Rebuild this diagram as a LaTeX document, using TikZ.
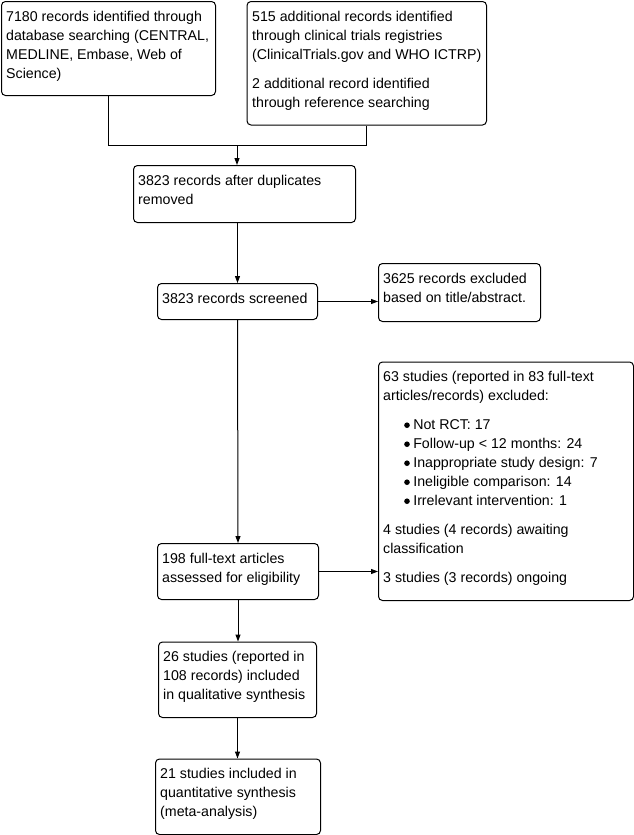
\documentclass[tikz,border=0pt]{standalone}
\usepackage{fontspec}
\setmainfont{Liberation Sans}
\usetikzlibrary{arrows.meta}
\newcommand{\blt}{\hspace*{21pt}\tikz[baseline=-4.5pt]\fill[black] (0,0) circle (2.8pt);\hspace{3.5pt}}
\begin{document}
\begin{tikzpicture}[x=1pt,y=-1pt,
  box/.style={draw=black, line width=1pt, rounded corners=4pt, inner sep=0pt, anchor=north west},
  txt/.style={anchor=north west, inner sep=0pt, align=left, font=\fontsize{14.2}{19}\selectfont},
  conn/.style={draw=black, line width=1pt},
  arr/.style={conn, -{Triangle[length=7pt,width=5pt]}}]
\fill[white] (0,0) rectangle (634,835);
\useasboundingbox (0,0) rectangle (634,835);

\node[box, minimum width=214pt, minimum height=94pt] (A) at (1,1) {};
\node[box, minimum width=239.5pt, minimum height=123.5pt] (B) at (246.5,1) {};
\node[box, minimum width=222pt, minimum height=57pt] (C) at (133,165) {};
\node[box, minimum width=160pt, minimum height=36pt] (D) at (157,283) {};
\node[box, minimum width=162pt, minimum height=58pt] (E) at (378,263) {};
\node[box, minimum width=161pt, minimum height=56pt] (F) at (157,543) {};
\node[box, minimum width=255pt, minimum height=238.5pt] (G) at (378,361.5) {};
\node[box, minimum width=158pt, minimum height=75.5pt] (H) at (158,641.5) {};
\node[box, minimum width=165pt, minimum height=75.5pt] (I) at (155,758.5) {};

\node[txt] (tA) at ([shift={(5,6.7)}]A.north west) {\strut 7180 records identified through\\database searching (CENTRAL,\\MEDLINE, Embase, Web of\\Science)};
\node[txt] (tB) at ([shift={(5.5,6.7)}]B.north west) {\strut 515 additional records identified\\through clinical trials registries\\(ClinicalTrials.gov and WHO ICTRP)\\[10pt]2 additional record identified\\through reference searching};
\node[txt] (tC) at ([shift={(5,6.7)}]C.north west) {\strut 3823 records after duplicates\\removed};
\node[txt] (tD) at ([shift={(5,6.7)}]D.north west) {\strut 3823 records screened};
\node[txt] (tE) at ([shift={(5,6.7)}]E.north west) {\strut 3625 records excluded\\based on title/abstract.};
\node[txt] (tF) at ([shift={(5,6.7)}]F.north west) {\strut 198 full-text articles\\assessed for eligibility};
\node[txt] (tG) at ([shift={(5,6.7)}]G.north west) {\strut 63 studies (reported in 83 full-text\\articles/records) excluded:\\[10pt]\blt Not RCT: 17\\\blt Follow-up < 12 months: 24\\\blt Inappropriate study design: 7\\\blt Ineligible comparison: 14\\\blt Irrelevant intervention: 1\\[10pt]4 studies (4 records) awaiting\\classification\\[10pt]3 studies (3 records) ongoing};
\node[txt] (tH) at ([shift={(5,6.7)}]H.north west) {\strut 26 studies (reported in\\108 records) included\\in qualitative synthesis};
\node[txt] (tI) at ([shift={(5,6.7)}]I.north west) {\strut 21 studies included in\\quantitative synthesis\\(meta-analysis)};

\coordinate (J) at (237,145);
\draw[conn] (A.south) -- (A.south |- J) -- (B.south |- J) -- (B.south);
\draw[arr] (J) -- (J |- C.north);
\draw[arr] (C.south -| D.north) -- (D.north);
\draw[arr] (D.east) -- (D.east -| E.west);
\draw[arr] (D.south) -- (F.north);
\draw[arr] (F.east) -- (F.east -| G.west);
\draw[arr] (F.south) -- (F.south |- H.north);
\draw[arr] (H.south) -- (H.south |- I.north);
\end{tikzpicture}
\end{document}
